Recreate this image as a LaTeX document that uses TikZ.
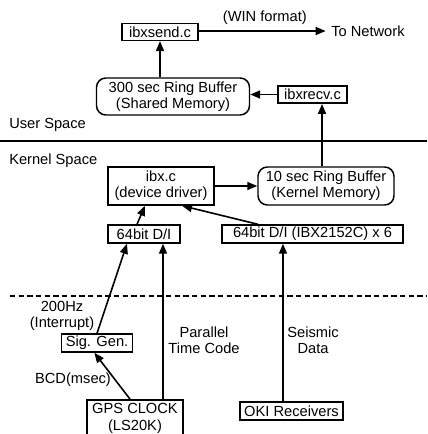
\documentclass[tikz,border=0pt]{standalone}
\usepackage{fontspec}
\setmainfont{Liberation Sans}
\usetikzlibrary{arrows.meta}
\begin{document}
\begin{tikzpicture}[x=0.75pt,y=-0.75pt,
        box/.style={draw, line width=1.1pt, inner sep=1pt, align=center,
            font=\fontsize{11}{12.2}\selectfont},
        ringbox/.style={box, rounded corners=7pt},
        lbl/.style={align=center, inner sep=0pt, font=\fontsize{11}{12.2}\selectfont},
        arr/.style={-{Triangle[length=7.5pt,width=6pt]}, line width=1.2pt}]
        \useasboundingbox (0,0) rectangle (427,434);

        % User space
        \node[box, minimum width=57pt, minimum height=12.5pt] (ibxsend) at (160,32) {ibxsend.c};
        \node[ringbox, minimum width=114.75pt, minimum height=27.75pt] (ring300) at (173,96.5) {300 sec Ring Buffer\\(Shared Memory)};
        \node[box, minimum width=51.75pt, minimum height=13pt] (ibxrecv) at (312.5,94.5) {ibxrecv.c};
        \node[lbl, anchor=west] (net) at (331,31) {To Network};
        \node[lbl, anchor=west] (user) at (9,125) {User Space};

        % Kernel space
        \node[lbl, anchor=west] (kernel) at (9,161) {Kernel Space};
        \node[box, minimum width=79.5pt, minimum height=28.5pt] (ibxc) at (161,186) {ibx.c\\(device driver)};
        \node[ringbox, minimum width=102pt, minimum height=28.5pt] (ring10) at (326,186) {10 sec Ring Buffer\\(Kernel Memory)};
        \node[box, minimum width=54pt, minimum height=13.5pt] (di) at (144,234) {64bit D/I};
        \node[box, minimum width=135.75pt, minimum height=13.5pt] (dibig) at (312.5,234) {64bit D/I (IBX2152C) x 6};

        % Hardware
        \node[box, minimum width=53.25pt, minimum height=13.5pt] (siggen) at (97,343) {Sig. Gen.};
        \node[box, minimum width=72pt, minimum height=28pt] (gps) at (135,418.5) {GPS CLOCK\\(LS20K)};
        \node[box, minimum width=77.25pt, minimum height=13.5pt] (oki) at (291.5,411) {OKI Receivers};
        \node[lbl] (irq) at (62,316) {200Hz\\(Interrupt)};
        \node[lbl] (bcd) at (73,380) {BCD(msec)};
        \node[lbl] (ptc) at (204,340) {Parallel\\Time Code};
        \node[lbl] (sdata) at (313,340) {Seismic\\Data};

        % Separators
        \draw[line width=1.6pt] (0,141) -- (427,141);
        \draw[line width=0.9pt, dash pattern=on 4pt off 2.5pt] (10,296) -- (427,296);

        % Data flow
        \draw[arr, shorten >=4pt] (ibxsend.east |- net.west) -- node[lbl, above=4pt] {(WIN format)} (net.west);
        \draw[arr] (ring300.north -| ibxsend.south) -- (ibxsend.south);
        \draw[arr] (ibxrecv.west) -- (ibxrecv.west -| ring300.east);
        \draw[arr] ([xshift=-3pt]ring10.north) -- ([xshift=-3pt]ring10.north |- ibxrecv.south);
        \draw[arr] (ibxc.east) -- (ring10.west);
        \draw[arr] ([xshift=-5.25pt]di.north) -- ([xshift=-12pt]ibxc.south);
        \draw[arr] ([xshift=-41pt]dibig.north) -- ([xshift=15.75pt]ibxc.south);
        \draw[arr] (siggen.north) -- ([xshift=-12.75pt]di.south);
        \draw[arr] ([xshift=21pt]gps.north) -- ([xshift=21pt]gps.north |- di.south);
        \draw[arr] ([xshift=-3.75pt]gps.north) -- ([xshift=-2pt]siggen.south);
        \draw[arr] ([xshift=-6.4pt]oki.north) -- ([xshift=-6.4pt]oki.north |- dibig.south);
\end{tikzpicture}
\end{document}
